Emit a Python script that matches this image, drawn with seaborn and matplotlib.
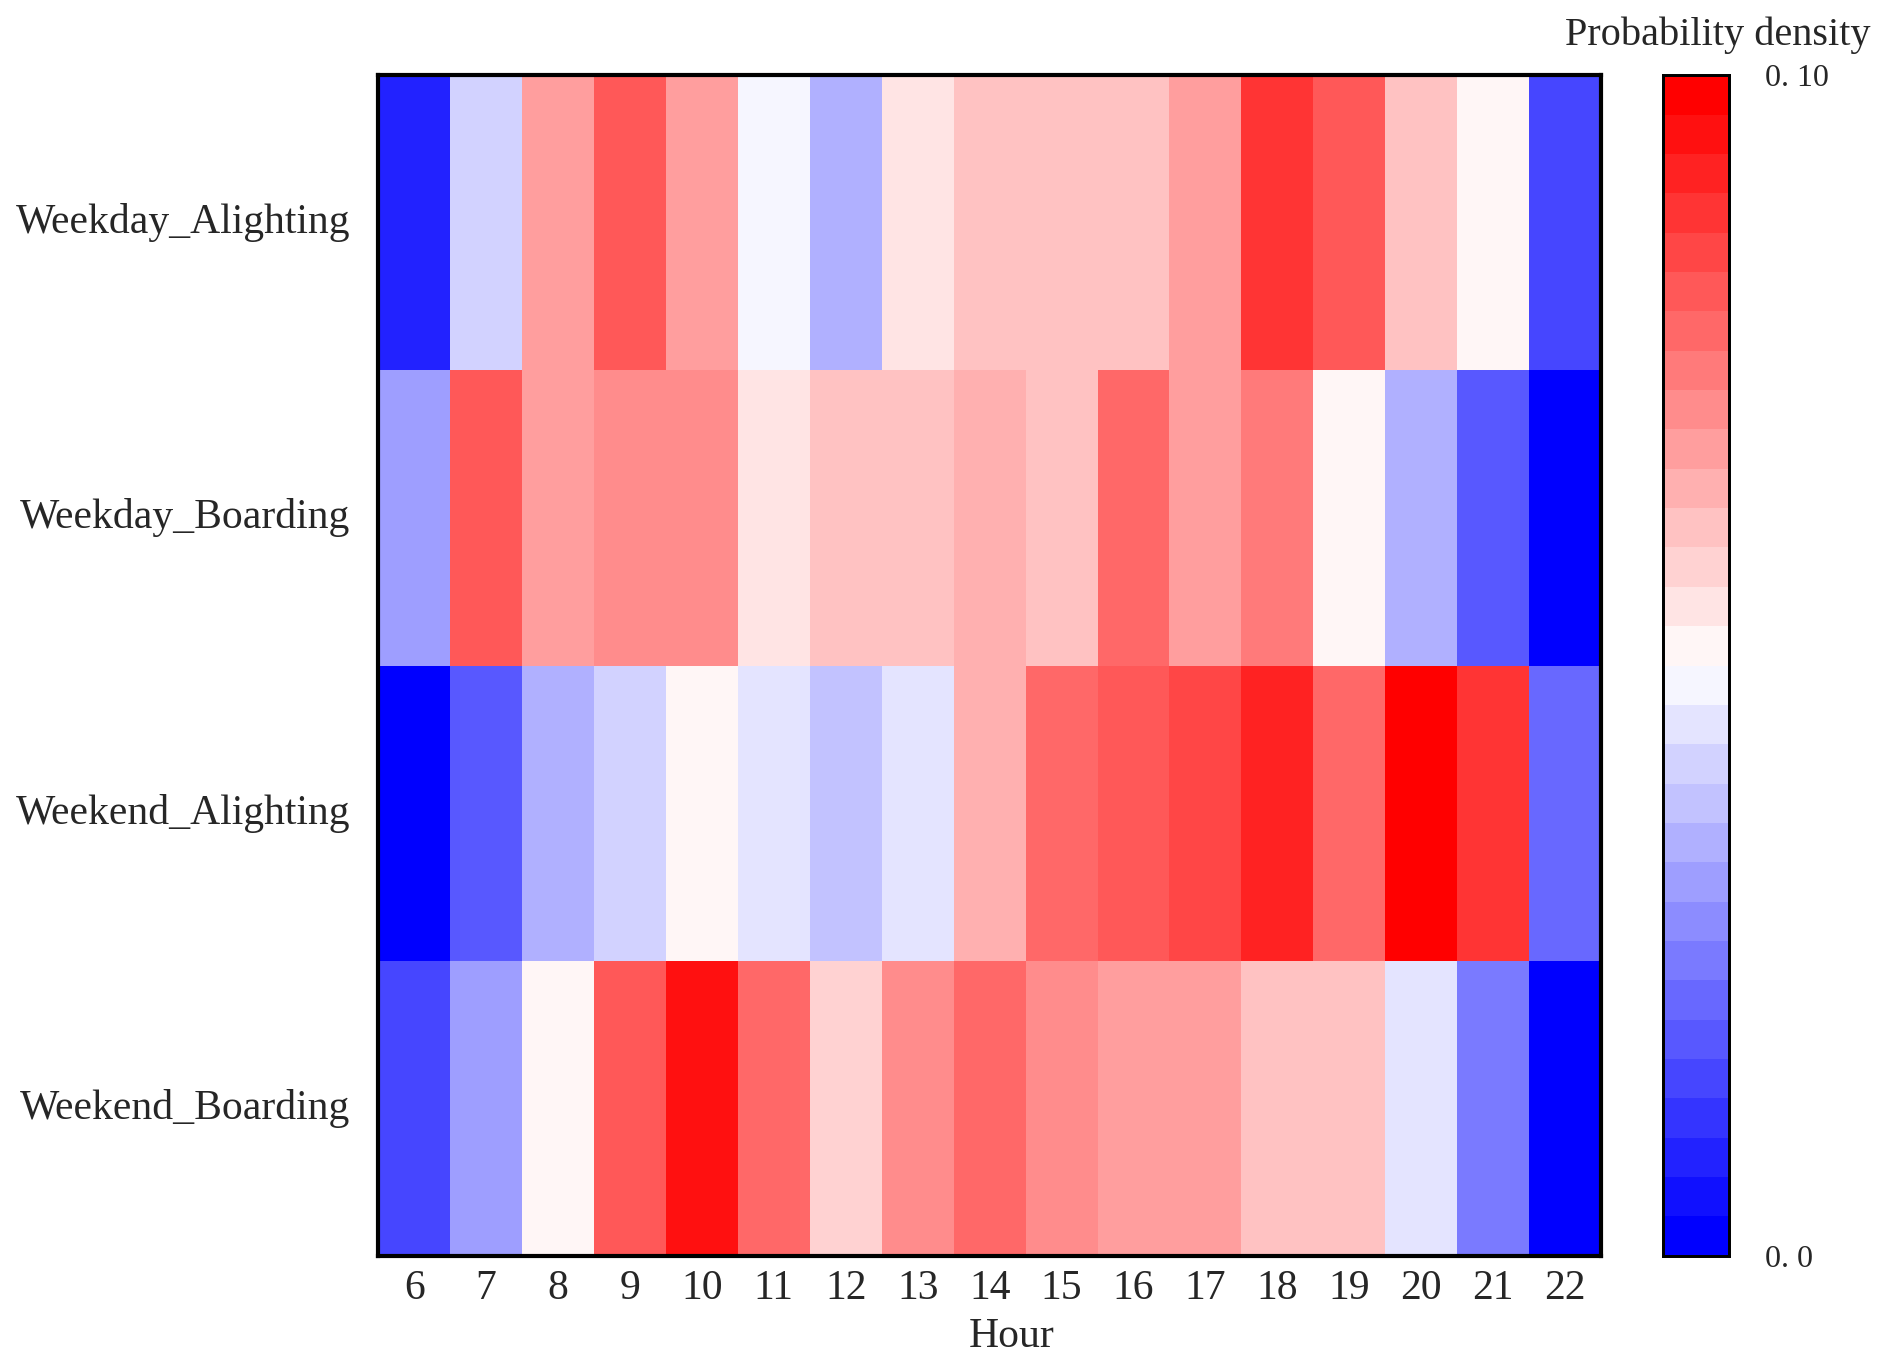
import numpy as np
import pandas as pd
import seaborn as sns
import matplotlib.pyplot as plt
from matplotlib.colors import ListedColormap

hours = list(range(6, 23))
rows = ["Weekday_Alighting", "Weekday_Boarding", "Weekend_Alighting", "Weekend_Boarding"]

weekday_alighting = [0.0075, 0.042, 0.069, 0.083, 0.069, 0.048, 0.0345, 0.055, 0.0625,
                     0.0625, 0.0625, 0.069, 0.087, 0.083, 0.063, 0.051, 0.014]
weekday_boarding = [0.0325, 0.083, 0.069, 0.0725, 0.0725, 0.056, 0.063, 0.063, 0.0655,
                    0.0625, 0.078, 0.069, 0.074, 0.0505, 0.0345, 0.019, 0.0]
weekend_alighting = [0.0, 0.0167, 0.0345, 0.042, 0.051, 0.044, 0.0375, 0.044, 0.065,
                     0.080, 0.083, 0.085, 0.091, 0.078, 0.100, 0.088, 0.022]
weekend_boarding = [0.014, 0.031, 0.051, 0.083, 0.094, 0.078, 0.058, 0.0725, 0.079,
                    0.0725, 0.069, 0.069, 0.0625, 0.0625, 0.044, 0.025, 0.0]

df = pd.DataFrame([weekday_alighting, weekday_boarding, weekend_alighting, weekend_boarding],
                  index=rows, columns=hours)

sns.set_style("white")
plt.rcParams['font.family'] = ['Liberation Serif', 'DejaVu Serif']

# discrete bwr, about 30 steps like the original colour bar
cmap = ListedColormap(plt.cm.bwr(np.linspace(0, 1, 30)))

fig = plt.figure(figsize=(18.77, 13.68), dpi=100)
ax = fig.add_axes([0.2015, 0.082, 0.6515, 0.863])
cax = fig.add_axes([0.886, 0.082, 0.035, 0.863])

sns.heatmap(df, ax=ax, cbar_ax=cax, cmap=cmap, vmin=0, vmax=0.1)

for s in ax.spines.values():
    s.set_visible(True)
    s.set_linewidth(3)
    s.set_color("black")

ax.set_xlabel("Hour", fontsize=30, labelpad=6)
ax.xaxis.set_label_coords(0.518, -0.052)
ax.set_ylabel("")
ax.tick_params(axis="x", labelsize=30, length=0, pad=10, rotation=0)
ax.tick_params(axis="y", labelsize=30, length=0, pad=20, rotation=0)

cax.set_yticks([0, 0.1])
cax.set_yticklabels(["0. 0", "0. 10"])
cax.tick_params(labelsize=23, length=0, pad=26)
for s in cax.spines.values():
    s.set_visible(True)
    s.set_linewidth(2)
    s.set_color("black")

fig.text(0.915, 0.974, "Probability density", fontsize=29, ha="center", va="center")

fig.savefig("out.png", dpi=100)
